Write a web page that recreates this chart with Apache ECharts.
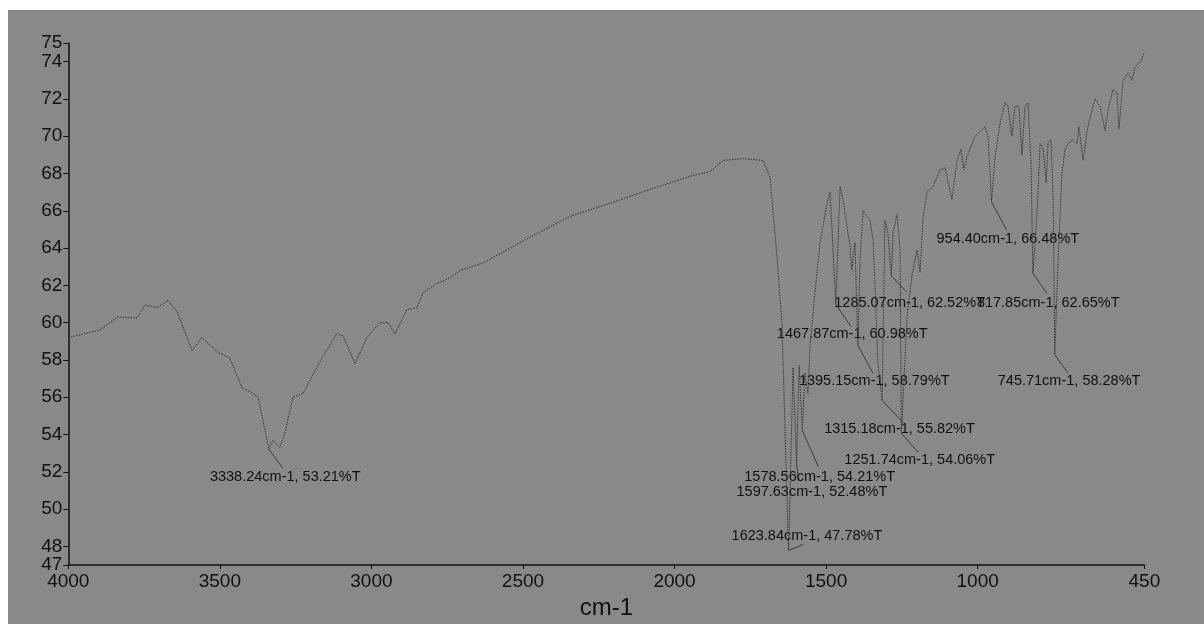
<!DOCTYPE html>
<html>
<head>
<meta charset="utf-8">
<title>IR spectrum</title>
<script src="https://cdn.jsdelivr.net/npm/echarts@6/dist/echarts.min.js"></script>
<style>
  html, body { margin: 0; padding: 0; background: #ffffff; }
  #chart { position: absolute; left: 8px; top: 10px; width: 1196px; height: 614px; background: #898989; }
</style>
</head>
<body>
<div id="chart"></div>
<script>
// Transmittance trace (wavenumber in cm-1, %T)
const wavenumbers = [
  4000, 3895, 3839, 3773, 3747, 3707, 3671, 3641, 3592, 3559, 3506, 3467, 3427, 3401, 3374,
  3338.24, 3325, 3302, 3285, 3259, 3226, 3160, 3114, 3094, 3054, 3015, 2972, 2945, 2922, 2883,
  2850, 2830, 2784, 2741, 2708, 2632, 2487, 2345, 2213, 2071, 1939, 1883, 1840, 1774, 1708,
  1685, 1662, 1645, 1636, 1623.84, 1609, 1597.63, 1589, 1578.56, 1570, 1560, 1553, 1537, 1520,
  1497, 1487, 1467.87, 1454, 1444, 1431, 1421, 1415, 1405, 1395.15, 1388, 1378, 1365, 1355,
  1345, 1339, 1329, 1315.18, 1306, 1296, 1285.07, 1279, 1266, 1256, 1251.74, 1233, 1217, 1200,
  1190, 1180, 1167, 1147, 1124, 1108, 1085, 1068, 1055, 1046, 1035, 1009, 976, 966, 954.40,
  943, 926, 910, 900, 887, 877, 864, 854, 844, 834, 824, 817.85, 804, 794, 784, 774, 768, 758,
  751, 745.71, 735, 722, 712, 702, 685, 672, 666, 652, 639, 623, 613, 596, 580, 570, 554, 540,
  534, 520, 504, 491, 481, 464, 450
];
const transmittance = [
  59.2, 59.6, 60.3, 60.25, 60.95, 60.8, 61.2, 60.6, 58.5, 59.2, 58.4, 58.1, 56.5, 56.3, 56.0,
  53.21, 53.7, 53.3, 54.1, 56.0, 56.2, 58.2, 59.4, 59.3, 57.8, 59.2, 60.0, 60.0, 59.4, 60.7,
  60.8, 61.6, 62.1, 62.4, 62.8, 63.2, 64.5, 65.7, 66.4, 67.2, 67.9, 68.1, 68.7, 68.8, 68.7,
  67.8, 63.5, 59.8, 54.4, 47.78, 57.6, 52.48, 57.7, 54.21, 57.3, 56.2, 58.7, 61.6, 64.3,
  66.4, 67.0, 60.98, 67.3, 66.6, 65.1, 64.1, 62.8, 64.3, 58.79, 63.4, 66.0, 65.7, 65.5,
  64.4, 62.1, 57.8, 55.82, 65.5, 64.8, 62.52, 64.8, 65.8, 63.9, 54.06, 60.3, 62.5, 63.9,
  62.7, 65.7, 67.0, 67.3, 68.2, 68.3, 66.6, 68.7, 69.3, 68.2, 68.9, 70.0, 70.5, 70.0, 66.48,
  68.9, 70.7, 71.8, 71.6, 70.0, 71.6, 71.6, 69.0, 71.6, 71.8, 68.6, 62.65, 65.9, 69.6, 69.4, 67.5, 69.6, 69.8,
  66.7, 58.28, 63.2, 68.0, 69.3, 69.6, 69.8, 69.6, 70.5, 68.7, 70.3, 71.4, 72.0, 71.6, 70.3, 71.4, 72.5, 72.3,
  70.4, 73.0, 73.4, 73.0, 73.7, 74.0, 74.5
];

// Picked peaks
const peakWavenumbers = [3338.24, 1623.84, 1597.63, 1578.56, 1467.87, 1395.15, 1315.18, 1285.07, 1251.74, 954.40, 817.85, 745.71];
const peakTransmittance = [53.21, 47.78, 52.48, 54.21, 60.98, 58.79, 55.82, 62.52, 54.06, 66.48, 62.65, 58.28];

// Axis ticks (the two labels that sit next to the axis ends go on a companion axis)
const xTicks = [4000, 3500, 3000, 2500, 2000, 1500, 1000, 450];
const yTicks = [47, 48, 50, 52, 54, 56, 58, 60, 62, 64, 66, 68, 70, 72, 74, 75];
const yLabelsMain = [47, 50, 52, 54, 56, 58, 60, 62, 64, 66, 68, 70, 72, 75];
const yLabelsNearEnds = [48, 74];

// Pixel offsets of each peak's leader end and label anchor
const leaderOffsets = [[14, 19], [15, -6], [2, 18], [16, 36], [15, 22], [15, 28], [21, 22], [15, 16], [17, 19], [15, 28], [14, 20], [13, 18]];
const labelOffsets = [[-59, 28], [-57, -14], [-60, 29], [-58, 46], [-59, 30], [-59, 36], [-58, 28], [-57, 27], [-57, 27], [-55, 37], [-56, 30], [-57, 26]];

const trace = wavenumbers.map((w, i) => [w, transmittance[i]]);
const peaks = peakWavenumbers.map((w, i) => [w, peakTransmittance[i], i]);

const FONT = '"Liberation Sans", Arial, sans-serif';
const INK = '#111';
const chart = echarts.init(document.getElementById('chart'), null, { renderer: 'canvas' });

const yLabelStyle = {
  fontFamily: FONT, fontSize: 19, color: INK, margin: 6,
  showMinLabel: true, showMaxLabel: true, hideOverlap: false,
  formatter: v => String(v)
};

chart.setOption({
  backgroundColor: '#898989',
  animation: false,
  grid: { left: 60.3, right: 59.6, top: 33, bottom: 59, containLabel: false, outerBoundsMode: 'none' },
  xAxis: {
    type: 'value',
    inverse: true,
    min: 450,
    max: 4000,
    name: 'cm-1',
    nameLocation: 'middle',
    nameGap: 26,
    nameTextStyle: { fontFamily: FONT, fontSize: 24, color: INK },
    axisLine: { onZero: false, lineStyle: { color: INK, width: 1.5 } },
    axisTick: { show: true, length: 4, customValues: xTicks, lineStyle: { color: INK, width: 1 } },
    axisLabel: {
      customValues: xTicks, fontFamily: FONT, fontSize: 19, color: INK, margin: 7,
      showMinLabel: true, showMaxLabel: true, hideOverlap: false,
      formatter: v => String(v)
    },
    splitLine: { show: false }
  },
  yAxis: [
    {
      type: 'value',
      min: 47,
      max: 75,
      position: 'left',
      axisLine: { show: true, onZero: false, lineStyle: { color: INK, width: 1.5 } },
      axisTick: { show: true, length: 5, customValues: yTicks, lineStyle: { color: INK, width: 1 } },
      axisLabel: Object.assign({ customValues: yLabelsMain }, yLabelStyle),
      splitLine: { show: false }
    },
    {
      type: 'value',
      min: 47,
      max: 75,
      position: 'left',
      offset: 0,
      axisLine: { show: false },
      axisTick: { show: false },
      axisLabel: Object.assign({ customValues: yLabelsNearEnds }, yLabelStyle, { margin: 6 }),
      splitLine: { show: false }
    }
  ],
  series: [
    {
      type: 'line',
      data: trace,
      showSymbol: false,
      smooth: false,
      lineStyle: { color: '#333333', width: 1, type: [1.5, 1.2] },
      silent: true
    },
    {
      type: 'custom',
      data: peaks,
      clip: false,
      silent: true,
      renderItem: function (params, api) {
        const p = api.coord([api.value(0), api.value(1)]);
        const i = api.value(2);
        const w = peakWavenumbers[i];
        const t = peakTransmittance[i];
        const lo = leaderOffsets[i];
        const to = labelOffsets[i];
        return {
          type: 'group',
          children: [
            {
              type: 'line',
              shape: { x1: p[0], y1: p[1], x2: p[0] + lo[0], y2: p[1] + lo[1] },
              style: { stroke: '#2a2a2a', lineWidth: 0.8 }
            },
            {
              type: 'text',
              x: p[0] + to[0],
              y: p[1] + to[1],
              style: {
                text: w.toFixed(2) + 'cm-1, ' + t.toFixed(2) + '%T',
                fill: INK,
                font: '14.5px ' + FONT,
                align: 'left',
                verticalAlign: 'middle'
              }
            }
          ]
        };
      }
    }
  ]
});
</script>
</body>
</html>
